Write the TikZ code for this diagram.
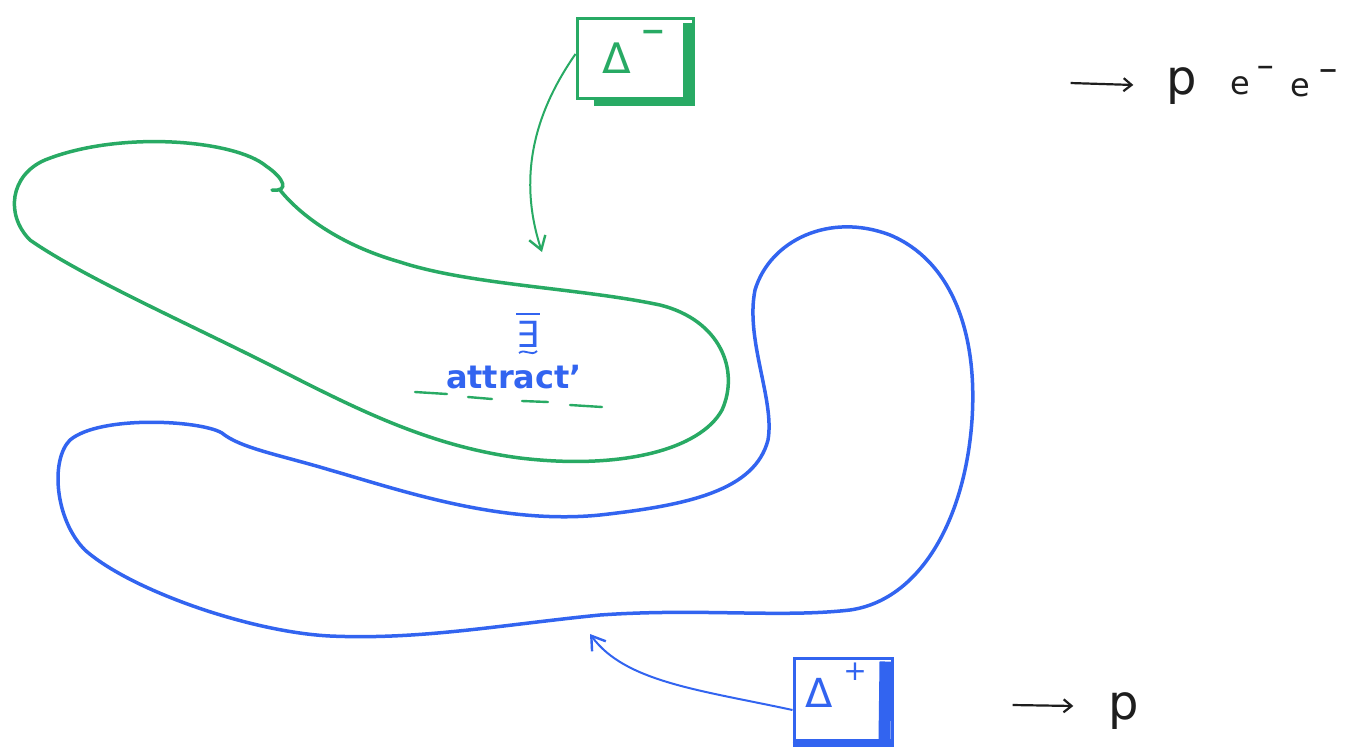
\documentclass[tikz,border=0pt]{standalone}
\usepackage{fontspec}
\setmainfont{DejaVu Sans}
\usetikzlibrary{arrows.meta}
\definecolor{pgreen}{RGB}{40,170,100}
\definecolor{pblue}{RGB}{50,100,240}
\definecolor{pink}{RGB}{30,30,30}
\tikzset{
  loopline/.style={line width=3.5pt, line join=round, line cap=round},
  gbox/.style={draw=pgreen, line width=3pt, minimum width=116pt, minimum height=80pt, inner sep=0pt},
  bbox/.style={draw=pblue, line width=3pt, minimum width=98pt, minimum height=82pt, inner sep=0pt},
  handtext/.style={inner sep=0pt, text=pink},
  pointer/.style={line width=2pt, -{Straight Barb[length=13pt,width=17pt,line width=2.4pt]}},
  underl/.style={pgreen, line width=2.4pt, line cap=round}
}
\begin{document}
\begin{tikzpicture}[x=1pt,y=-1pt]
\useasboundingbox (0,0) rectangle (1347,747);
\fill[white] (0,0) rectangle (1347,747);

% green loop
\draw[pgreen, loopline] (266,166)
  .. controls (284,178) and (290,192) .. (272,190)
  (266,166)
  .. controls (235,140) and (120,130) .. (45,160)
  .. controls (10,175) and (5,215) .. (30,240)
  .. controls (80,275) and (180,320) .. (260,360)
  .. controls (340,400) and (420,445) .. (520,458)
  .. controls (620,470) and (700,450) .. (722,410)
  .. controls (740,370) and (720,320) .. (660,305)
  .. controls (580,288) and (470,285) .. (400,262)
  .. controls (340,245) and (300,215) .. (280,190);

% blue loop
\draw[pblue, loopline] (222,433)
  .. controls (200,420) and (100,415) .. (70,440)
  .. controls (50,460) and (55,520) .. (85,550)
  .. controls (130,590) and (250,632) .. (330,636)
  .. controls (420,640) and (500,625) .. (600,615)
  .. controls (700,608) and (780,618) .. (850,610)
  .. controls (920,600) and (965,520) .. (972,420)
  .. controls (978,330) and (950,260) .. (890,235)
  .. controls (830,212) and (770,240) .. (755,290)
  .. controls (745,340) and (775,400) .. (768,440)
  .. controls (755,490) and (690,505) .. (600,515)
  .. controls (500,525) and (400,490) .. (330,470)
  .. controls (280,455) and (240,448) .. (222,433);

% green box
\node[gbox] (dminus) at (635,58) {};
\draw[pgreen, line width=11pt] ([xshift=-6pt,yshift=-6pt]dminus.north east) -- ([xshift=-6pt,yshift=2pt]dminus.south east);
\draw[pgreen, line width=6pt] ([xshift=18pt,yshift=-3pt]dminus.south west) -- ([yshift=-3pt]dminus.south east);
\node[text=pgreen, font=\fontsize{42}{46}\selectfont] (dmtri) at (617,58) {Δ};
\node[text=pgreen, font=\fontsize{30}{32}\selectfont\bfseries] (dmsign) at (653,36) {−};

% blue box
\node[bbox] (dplus) at (843,699) {};
\draw[pblue, line width=12pt] ([xshift=-8pt,yshift=-5pt]dplus.north east) -- ([xshift=-9pt,yshift=2pt]dplus.south east);
\draw[pblue, line width=7pt] ([yshift=-4pt]dplus.south west) -- ([yshift=-4pt]dplus.south east);
\node[text=pblue, font=\fontsize{40}{44}\selectfont] (dptri) at (819,693) {Δ};
\node[text=pblue, font=\fontsize{28}{30}\selectfont] (dpsign) at (855,672) {+};

% pointers
\coordinate (gtip) at (542,252);
\coordinate (btip) at (590,634);
\draw[pgreen, pointer] ([yshift=4pt]dminus.west) .. controls (540,105) and (515,170) .. (gtip);
\draw[pblue, pointer] ([yshift=-11pt]dplus.west) .. controls (700,690) and (625,682) .. (btip);

% center text
\node[text=pblue, font=\fontsize{36}{38}\selectfont] (exists) at (528,334) {∃};
\draw[pblue, line width=2.2pt] (516,314) -- (540,314);
\draw[pblue, line width=1.8pt] (519,353) .. controls (525,348) and (531,357) .. (537,351);
\node[text=pblue, font=\fontsize{32}{34}\selectfont\bfseries] (attr) at (514,377) {attract'};
\draw[underl] (415,392) -- (447,394);
\draw[underl] (468,397) -- (492,399);
\draw[underl] (522,401) -- (548,402);
\draw[underl] (570,405) -- (602,407);

% right text, top
\node[handtext] (a1s) at (1070,83) {};
\node[handtext] (a1e) at (1134,85) {};
\draw[pink, line width=2.2pt, -{Straight Barb[length=8pt,width=13pt]}] (a1s) -- (a1e);
\node[handtext, anchor=base west, font=\fontsize{48}{50}\selectfont] (p1) at (1166,94) {p};
\node[handtext, anchor=base west, font=\fontsize{32}{34}\selectfont] (e1) at (1230,94) {e};
\node[handtext, anchor=base west, font=\fontsize{22}{24}\selectfont\bfseries] (m1) at (1256,74) {−};
\node[handtext, anchor=base west, font=\fontsize{32}{34}\selectfont] (e2) at (1290,96) {e};
\node[handtext, anchor=base west, font=\fontsize{24}{26}\selectfont\bfseries] (m2) at (1318,78) {−};

% right text, bottom
\node[handtext] (a2s) at (1012,705) {};
\node[handtext] (a2e) at (1074,706) {};
\draw[pink, line width=2.2pt, -{Straight Barb[length=8pt,width=13pt]}] (a2s) -- (a2e);
\node[handtext, anchor=base west, font=\fontsize{48}{50}\selectfont] (p2) at (1108,719) {p};
\end{tikzpicture}
\end{document}
